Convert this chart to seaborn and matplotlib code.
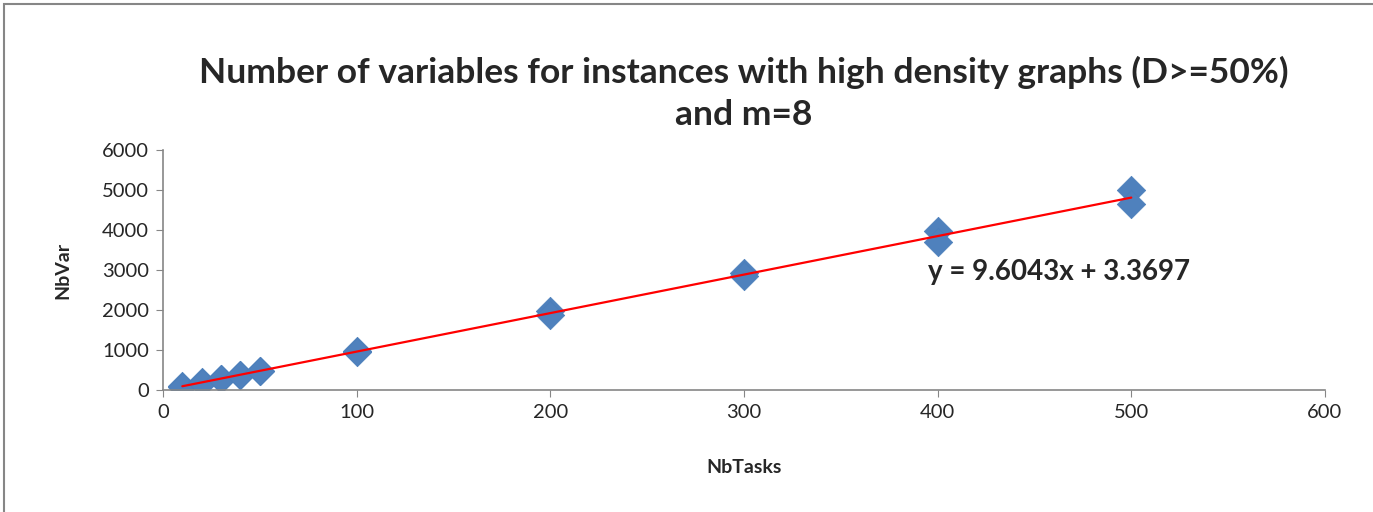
import pandas as pd
import matplotlib
matplotlib.use('Agg')
import matplotlib.pyplot as plt
import seaborn as sns
from matplotlib.patches import Rectangle

nb_tasks = [10, 10, 20, 20, 30, 30, 40, 40, 50, 50,
            100, 100, 200, 200, 300, 300, 400, 400, 500, 500]
nb_var = [100, 90, 200, 190, 290, 285, 390, 380, 490, 480,
          970, 950, 1990, 1880, 2930, 2840, 3975, 3710, 4990, 4640]
equation = 'y = 9.6043x + 3.3697'

df = pd.DataFrame({'NbTasks': nb_tasks, 'NbVar': nb_var})

sns.set_style('white')
plt.rcParams['font.family'] = ['Lato', 'DejaVu Sans']

fig = plt.figure(figsize=(13.73, 5.12), dpi=100)
ax = fig.add_axes([0.1187, 0.238, 0.8463, 0.469])

sns.regplot(
    x='NbTasks', y='NbVar', data=df, ax=ax, ci=None, truncate=True,
    marker='D',
    scatter_kws={'color': '#4F81BD', 's': 210, 'alpha': 1, 'edgecolors': '#4A7EBB',
                 'linewidths': 0.5, 'zorder': 2},
    line_kws={'color': 'red', 'linewidth': 1.6, 'zorder': 3}
)

ax.set_xlim(0, 600)
ax.set_ylim(0, 6000)
ax.set_xticks(range(0, 601, 100))
ax.set_yticks(range(0, 6001, 1000))
ax.tick_params(axis='both', labelsize=14.5, length=5, color='#868686', direction='out',
               bottom=True, left=True, pad=5)
for s in ['top', 'right']:
    ax.spines[s].set_visible(False)
for s in ['left', 'bottom']:
    ax.spines[s].set_color('#868686')
    ax.spines[s].set_linewidth(1.2)

ax.set_xlabel('NbTasks', fontsize=14, fontweight='bold', labelpad=27)
ax.set_ylabel('NbVar', fontsize=14, fontweight='bold', labelpad=22)
ax.set_title('Number of variables for instances with high density graphs (D>=50%)\nand m=8',
             fontsize=25.5, fontweight='bold', pad=18, linespacing=1.4)

ax.text(395, 2950, equation, fontsize=20, fontweight='bold', ha='left', va='center')

fig.patches.append(Rectangle((4, -10), 1400, 518, transform=None, fill=False,
                             edgecolor='#868686', linewidth=1.5))

fig.savefig('out.png', dpi=100)
